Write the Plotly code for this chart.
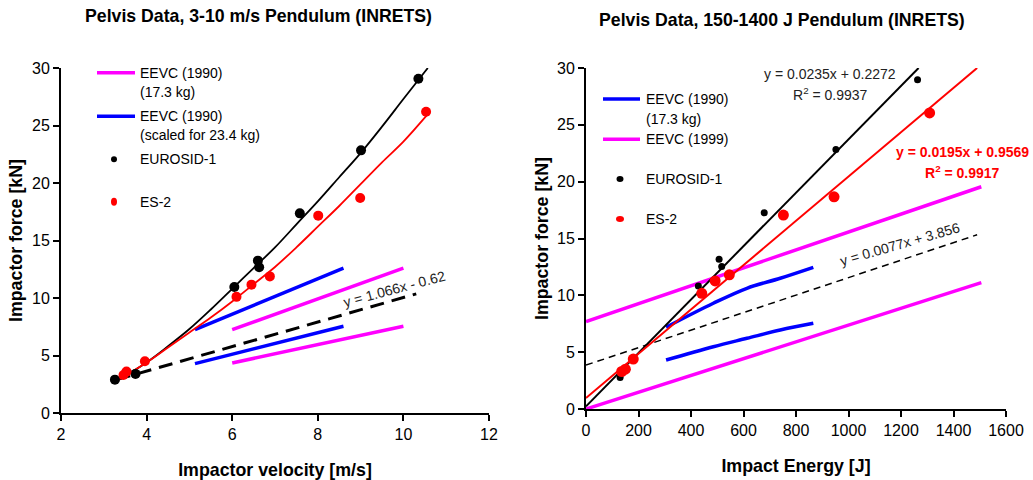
import plotly.graph_objects as go

# ---------------- DATA ----------------
# Left chart: impactor velocity [m/s] vs impactor force [kN]
eurosid_v = [3.26, 3.74, 6.05, 6.6, 6.63, 7.58, 9.01, 10.35]
eurosid_f_v = [2.9, 3.4, 10.96, 13.25, 12.67, 17.36, 22.84, 29.07]
es2_v = [3.46, 3.53, 3.96, 6.1, 6.45, 6.88, 8.01, 8.99, 10.53]
es2_f_v = [3.3, 3.6, 4.5, 10.1, 11.16, 11.88, 17.16, 18.7, 26.2]

eurosid_curve_v = [3.3, 4.0, 4.5, 5.0, 5.5, 6.0, 6.5, 7.0, 7.5, 8.0, 8.5, 9.0, 9.5, 10.0, 10.57]
eurosid_curve_f = [2.8, 4.4, 5.8, 7.3, 9.0, 10.8, 12.6, 14.4, 16.4, 18.4, 20.5, 22.6, 24.9, 27.3, 30.0]
es2_curve_v = [3.3, 4.0, 4.5, 5.0, 5.5, 6.0, 6.5, 7.0, 7.5, 8.0, 8.5, 9.0, 9.5, 10.0, 10.55]
es2_curve_f = [2.8, 4.4, 5.7, 7.0, 8.3, 9.7, 11.2, 12.7, 14.4, 16.2, 18.0, 19.9, 21.8, 23.6, 25.9]

eevc90_v = [6.0, 10.0]
eevc90_upper_f = [7.25, 12.6]
eevc90_lower_f = [4.35, 7.54]
eevc90s_v = [5.13, 8.6]
eevc90s_upper_f = [7.25, 12.6]
eevc90s_lower_f = [4.29, 7.54]

fit_left_v = [3.3, 10.3]
fit_left_f = [2.9, 10.36]
fit_left_label = "y = 1.066x - 0.62"

# Right chart: impact energy [J] vs impactor force [kN]
eurosid_e = [130, 155, 428, 507, 517, 679, 952, 1263]
eurosid_f_e = [2.78, 3.45, 10.83, 13.17, 12.53, 17.27, 22.83, 28.97]
es2_e = [136, 150, 180, 441, 492, 546, 752, 945, 1309]
es2_f_e = [3.3, 3.5, 4.39, 10.18, 11.27, 11.8, 17.06, 18.67, 26.05]

eurosid_fit_e = [0, 1267]
eurosid_fit_f = [0.23, 30.0]
es2_fit_e = [0, 1490]
es2_fit_f = [0.96, 30.0]
all_fit_e = [0, 1490]
all_fit_f = [3.86, 15.33]

eevc99_e = [0, 1506]
eevc99_upper_f = [7.7, 19.55]
eevc99_lower_f = [0.0, 11.12]

eevc90e_e = [305, 485, 613, 740, 866]
eevc90e_upper_f = [7.19, 9.3, 10.62, 11.5, 12.46]
eevc90e_lower_f = [4.31, 5.48, 6.22, 6.95, 7.54]

eurosid_fit_label = ["y = 0.0235x + 0.2272", "R<sup>2</sup> = 0.9937"]
es2_fit_label = ["<b>y = 0.0195x + 0.9569</b>", "<b>R<sup>2</sup> = 0.9917</b>"]
all_fit_label = "y = 0.0077x + 3.856"

left_ticks_x = [2, 4, 6, 8, 10, 12]
right_ticks_x = [0, 200, 400, 600, 800, 1000, 1200, 1400, 1600]
ticks_y = [0, 5, 10, 15, 20, 25, 30]

# ---------------- STYLE ----------------
W, H = 1033, 480
FONT = "Liberation Sans, Arial, sans-serif"
MAG, BLUE, RED, BLK = "#FF00FF", "#0000FF", "#FF0000", "#000000"


def px(x):
    return x / W


def py(y):
    return 1 - y / H


fig = go.Figure()

# ---- left traces
L = dict(xaxis="x", yaxis="y", showlegend=False, hoverinfo="skip")
for yy in (eevc90_upper_f, eevc90_lower_f):
    fig.add_trace(go.Scatter(x=eevc90_v, y=yy, mode="lines", line=dict(color=MAG, width=3.5), **L))
for yy in (eevc90s_upper_f, eevc90s_lower_f):
    fig.add_trace(go.Scatter(x=eevc90s_v, y=yy, mode="lines", line=dict(color=BLUE, width=3.5), **L))
fig.add_trace(go.Scatter(x=fit_left_v, y=fit_left_f, mode="lines",
                         line=dict(color=BLK, width=3, dash="14px,8px"), **L))
fig.add_trace(go.Scatter(x=eurosid_curve_v, y=eurosid_curve_f, mode="lines",
                         line=dict(color=BLK, width=1.8, shape="spline"), **L))
fig.add_trace(go.Scatter(x=es2_curve_v, y=es2_curve_f, mode="lines",
                         line=dict(color=RED, width=1.8, shape="spline"), **L))
fig.add_trace(go.Scatter(x=eurosid_v, y=eurosid_f_v, mode="markers",
                         marker=dict(color=BLK, size=10), **L))
fig.add_trace(go.Scatter(x=es2_v, y=es2_f_v, mode="markers",
                         marker=dict(color=RED, size=10), **L))

# ---- right traces
R = dict(xaxis="x2", yaxis="y2", showlegend=False, hoverinfo="skip")
for yy in (eevc99_upper_f, eevc99_lower_f):
    fig.add_trace(go.Scatter(x=eevc99_e, y=yy, mode="lines", line=dict(color=MAG, width=3.5), **R))
for yy in (eevc90e_upper_f, eevc90e_lower_f):
    fig.add_trace(go.Scatter(x=eevc90e_e, y=yy, mode="lines",
                             line=dict(color=BLUE, width=3.5, shape="spline"), **R))
fig.add_trace(go.Scatter(x=all_fit_e, y=all_fit_f, mode="lines",
                         line=dict(color=BLK, width=1.5, dash="7px,5px"), **R))
fig.add_trace(go.Scatter(x=eurosid_fit_e, y=eurosid_fit_f, mode="lines",
                         line=dict(color=BLK, width=2), **R))
fig.add_trace(go.Scatter(x=es2_fit_e, y=es2_fit_f, mode="lines",
                         line=dict(color=RED, width=2), **R))
fig.add_trace(go.Scatter(x=eurosid_e, y=eurosid_f_e, mode="markers",
                         marker=dict(color=BLK, size=7), **R))
fig.add_trace(go.Scatter(x=es2_e, y=es2_f_e, mode="markers",
                         marker=dict(color=RED, size=11), **R))

axis_common = dict(showline=True, linecolor=BLK, linewidth=2, ticks="outside", ticklen=6,
                   tickwidth=2, tickcolor=BLK, showgrid=False, zeroline=False, automargin=False,
                   tickfont=dict(family=FONT, size=16, color=BLK))
title_font = dict(family=FONT, size=17.8, color=BLK)

fig.update_layout(
    width=W, height=H, margin=dict(l=0, r=0, t=0, b=0, autoexpand=False), autosize=False,
    paper_bgcolor="white", plot_bgcolor="white", showlegend=False,
    xaxis=dict(domain=[px(61), px(489)], range=[2, 12], tickvals=left_ticks_x, anchor="y",
               title=dict(text="<b>Impactor velocity [m/s]</b>", font=title_font, standoff=21),
               **axis_common),
    yaxis=dict(domain=[py(413), py(68)], range=[0, 30], tickvals=ticks_y, anchor="x",
               title=dict(text="<b>Impactor force [kN]</b>", font=title_font, standoff=5),
               **axis_common),
    xaxis2=dict(domain=[px(586), px(1006)], range=[0, 1600], tickvals=right_ticks_x, anchor="y2",
                title=dict(text="<b>Impact Energy [J]</b>", font=title_font, standoff=21),
                **axis_common),
    yaxis2=dict(domain=[py(409), py(68)], range=[0, 30], tickvals=ticks_y, anchor="x2",
                title=dict(text="<b>Impactor force [kN]</b>", font=title_font, standoff=4),
                **axis_common),
)

ann = []


def add_text(text, x, y, size=14, color=BLK, xanchor="center", angle=0):
    ann.append(dict(text=text, x=px(x), y=py(y), xref="paper", yref="paper", showarrow=False,
                    xanchor=xanchor, yanchor="middle", textangle=angle,
                    font=dict(family=FONT, size=size, color=color)))


# Titles
add_text("<b>Pelvis Data, 3-10 m/s Pendulum (INRETS)</b>", 258, 16, size=17.7)
add_text("<b>Pelvis Data, 150-1400 J Pendulum (INRETS)</b>", 782, 20, size=17.7)

# Equation labels
add_text(fit_left_label, 394, 289, color="#222", angle=-15)
add_text(all_fit_label, 900, 244, color="#222", angle=-16)
add_text(eurosid_fit_label[0], 830, 74, color="#222")
add_text(eurosid_fit_label[1], 830, 94, color="#222")
add_text(es2_fit_label[0], 962, 152, color=RED)
add_text(es2_fit_label[1], 962, 172, color=RED)

# Manual legends
left_leg = [("EEVC (1990)", 72.7), ("(17.3 kg)", 91.7), ("EEVC (1990)", 116.3),
            ("(scaled for 23.4 kg)", 135.3), ("EUROSID-1", 159.3), ("ES-2", 201.7)]
for t, yy in left_leg:
    add_text(t, 138, yy, xanchor="left")
right_leg = [("EEVC (1990)", 99), ("(17.3 kg)", 118.7), ("EEVC (1999)", 139.3),
             ("EUROSID-1", 179), ("ES-2", 219)]
for t, yy in right_leg:
    add_text(t, 644, yy, xanchor="left")

shapes = []


def leg_line(x0, x1, y, color):
    shapes.append(dict(type="line", xref="paper", yref="paper", x0=px(x0), x1=px(x1),
                       y0=py(y), y1=py(y), line=dict(color=color, width=3.5)))


def leg_dot(x, y, rx, ry, color):
    shapes.append(dict(type="circle", xref="paper", yref="paper", x0=px(x - rx), x1=px(x + rx),
                       y0=py(y + ry), y1=py(y - ry), fillcolor=color, line=dict(width=0)))


leg_line(97, 135, 72.7, MAG)
leg_line(97, 135, 116.3, BLUE)
leg_dot(114, 159.3, 3, 3, BLK)
leg_dot(114, 201.7, 3, 4, RED)
leg_line(603, 640, 99, BLUE)
leg_line(603, 640, 139.3, MAG)
leg_dot(620, 179, 3.5, 3, BLK)
leg_dot(620, 219, 4, 3, RED)

fig.update_layout(annotations=ann, shapes=shapes)
fig.write_html("out.html")
